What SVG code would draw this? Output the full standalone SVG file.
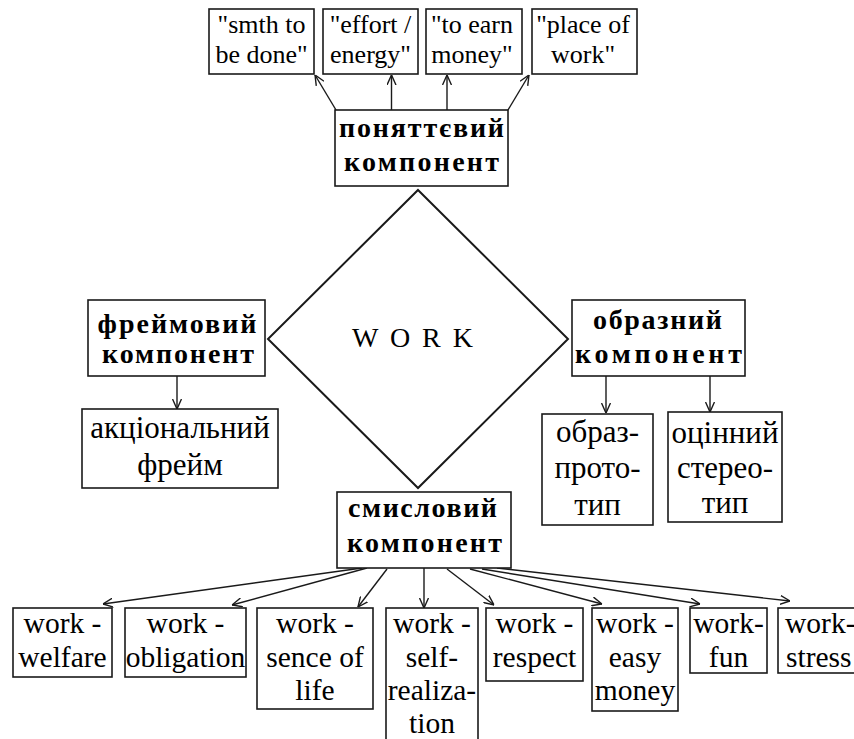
<svg xmlns="http://www.w3.org/2000/svg" width="854" height="739" viewBox="0 0 854 739">
<defs>
  <marker id="ah" viewBox="0 0 10 10" refX="10" refY="5" markerWidth="10" markerHeight="10" markerUnits="userSpaceOnUse" orient="auto">
    <path d="M0,0.5 L10,5 L0,9.5" fill="none" stroke="#1a1a1a" stroke-width="1.4"/>
  </marker>
</defs>
<rect width="854" height="739" fill="#fff"/>

<g id="connectors" fill="none" stroke="#1a1a1a" stroke-width="1.4" marker-end="url(#ah)">
  <line x1="336" y1="110" x2="315" y2="75"/>
  <line x1="391.5" y1="110" x2="391.5" y2="75"/>
  <line x1="447" y1="110" x2="447" y2="75"/>
  <line x1="508" y1="110" x2="529" y2="75"/>
  <line x1="177" y1="376" x2="177" y2="409"/>
  <line x1="606" y1="376" x2="606" y2="413"/>
  <line x1="710" y1="376" x2="710" y2="412"/>
  <line x1="362" y1="568" x2="103" y2="604"/>
  <line x1="367" y1="568" x2="232" y2="605"/>
  <line x1="387" y1="569" x2="358" y2="607"/>
  <line x1="424" y1="568" x2="424" y2="608"/>
  <line x1="447" y1="569" x2="494" y2="605"/>
  <line x1="470" y1="569" x2="602" y2="604"/>
  <line x1="482" y1="569" x2="700" y2="604"/>
  <line x1="497" y1="568" x2="790" y2="601"/>
</g>

<g fill="#fff" stroke="#1a1a1a" stroke-width="1.6">
  <rect id="r-smth" x="209" y="9" width="105" height="65"/>
  <rect id="r-effort" x="323" y="9" width="95" height="65"/>
  <rect id="r-earn" x="426" y="9" width="96" height="65"/>
  <rect id="r-place" x="532" y="9" width="105" height="65"/>
  <rect id="r-ponyat" x="335" y="110" width="173" height="76"/>
  <polygon id="r-work" points="418,190 568,339 418,488 268,339" stroke-width="2"/>
  <rect id="r-freim" x="88" y="300" width="177" height="76"/>
  <rect id="r-akts" x="82" y="409" width="196" height="79"/>
  <rect id="r-obraz" x="572" y="300" width="173" height="76"/>
  <rect id="r-proto" x="542" y="414" width="111" height="111"/>
  <rect id="r-stereo" x="668" y="412" width="114" height="110"/>
  <rect id="r-smysl" x="337" y="492" width="174" height="76"/>
  <rect id="r-welfare" x="13" y="608" width="99" height="69"/>
  <rect id="r-obligation" x="125" y="608" width="121" height="69"/>
  <rect id="r-sence" x="257" y="608" width="116" height="101"/>
  <rect id="r-self" x="386" y="608" width="92" height="150"/>
  <rect id="r-respect" x="486" y="608" width="97" height="73"/>
  <rect id="r-easy" x="592" y="608" width="86" height="103"/>
  <rect id="r-fun" x="690" y="608" width="77" height="65"/>
  <rect id="r-stress" x="778" y="608" width="100" height="65"/>
</g>

<g id="n-smth">
  <text x="261.5" y="33" text-anchor="middle" font-size="26" style="font-family:'Liberation Serif',serif">"smth to</text>
  <text x="261.5" y="63" text-anchor="middle" font-size="26" style="font-family:'Liberation Serif',serif">be done"</text>
</g>
<g id="n-effort">
  <text x="370.5" y="33" text-anchor="middle" font-size="26" style="font-family:'Liberation Serif',serif">"effort /</text>
  <text x="370.5" y="63" text-anchor="middle" font-size="26" style="font-family:'Liberation Serif',serif">energy"</text>
</g>
<g id="n-earn">
  <text x="472" y="33" text-anchor="middle" font-size="26" style="font-family:'Liberation Serif',serif">"to earn</text>
  <text x="472" y="63" text-anchor="middle" font-size="26" style="font-family:'Liberation Serif',serif">money"</text>
</g>
<g id="n-place">
  <text x="583" y="33" text-anchor="middle" font-size="26" style="font-family:'Liberation Serif',serif">"place of</text>
  <text x="583" y="63" text-anchor="middle" font-size="26" style="font-family:'Liberation Serif',serif">work"</text>
</g>

<g id="n-ponyat">
  <text x="421.5" y="137" text-anchor="middle" font-size="28" font-weight="bold" style="font-family:'Liberation Serif',serif" textLength="165" lengthAdjust="spacing">поняттєвий</text>
  <text x="421.5" y="171" text-anchor="middle" font-size="28" font-weight="bold" style="font-family:'Liberation Serif',serif" textLength="155" lengthAdjust="spacing">компонент</text>
</g>

<g id="n-work">
  <text x="412.5" y="347" text-anchor="middle" font-size="28" style="font-family:'Liberation Serif',serif" textLength="121" lengthAdjust="spacing">W O R K</text>
</g>

<g id="n-freim">
  <text x="177" y="333" text-anchor="middle" font-size="28" font-weight="bold" style="font-family:'Liberation Serif',serif" textLength="159" lengthAdjust="spacing">фреймовий</text>
  <text x="178" y="363" text-anchor="middle" font-size="28" font-weight="bold" style="font-family:'Liberation Serif',serif" textLength="152" lengthAdjust="spacing">компонент</text>
</g>
<g id="n-akts">
  <text x="180" y="438" text-anchor="middle" font-size="31" style="font-family:'Liberation Serif',serif">акціональний</text>
  <text x="180" y="475" text-anchor="middle" font-size="31" style="font-family:'Liberation Serif',serif">фрейм</text>
</g>

<g id="n-obraz">
  <text x="657.5" y="329" text-anchor="middle" font-size="28" font-weight="bold" style="font-family:'Liberation Serif',serif" textLength="129" lengthAdjust="spacing">образний</text>
  <text x="658.5" y="363" text-anchor="middle" font-size="28" font-weight="bold" style="font-family:'Liberation Serif',serif" textLength="167" lengthAdjust="spacing">компонент</text>
</g>
<g id="n-proto">
  <text x="597.5" y="442" text-anchor="middle" font-size="31" style="font-family:'Liberation Serif',serif">образ-</text>
  <text x="597.5" y="478" text-anchor="middle" font-size="31" style="font-family:'Liberation Serif',serif">прото-</text>
  <text x="597.5" y="515" text-anchor="middle" font-size="31" style="font-family:'Liberation Serif',serif">тип</text>
</g>
<g id="n-stereo">
  <text x="725" y="443" text-anchor="middle" font-size="31" style="font-family:'Liberation Serif',serif">оцінний</text>
  <text x="725" y="478" text-anchor="middle" font-size="31" style="font-family:'Liberation Serif',serif">стерео-</text>
  <text x="725" y="513" text-anchor="middle" font-size="31" style="font-family:'Liberation Serif',serif">тип</text>
</g>

<g id="n-smysl">
  <text x="422.5" y="517" text-anchor="middle" font-size="28" font-weight="bold" style="font-family:'Liberation Serif',serif" textLength="149" lengthAdjust="spacing">смисловий</text>
  <text x="424.5" y="552" text-anchor="middle" font-size="28" font-weight="bold" style="font-family:'Liberation Serif',serif" textLength="155" lengthAdjust="spacing">компонент</text>
</g>

<g id="n-welfare">
  <text x="62.5" y="633" text-anchor="middle" font-size="29.5" style="font-family:'Liberation Serif',serif">work -</text>
  <text x="62.5" y="667" text-anchor="middle" font-size="29.5" style="font-family:'Liberation Serif',serif">welfare</text>
</g>
<g id="n-obligation">
  <text x="185.5" y="633" text-anchor="middle" font-size="29.5" style="font-family:'Liberation Serif',serif">work -</text>
  <text x="185.5" y="667" text-anchor="middle" font-size="29.5" style="font-family:'Liberation Serif',serif">obligation</text>
</g>
<g id="n-sence">
  <text x="315" y="633" text-anchor="middle" font-size="29.5" style="font-family:'Liberation Serif',serif">work -</text>
  <text x="315" y="667" text-anchor="middle" font-size="29.5" style="font-family:'Liberation Serif',serif">sence of</text>
  <text x="315" y="700" text-anchor="middle" font-size="29.5" style="font-family:'Liberation Serif',serif">life</text>
</g>
<g id="n-self">
  <text x="432" y="633" text-anchor="middle" font-size="29.5" style="font-family:'Liberation Serif',serif">work -</text>
  <text x="432" y="667" text-anchor="middle" font-size="29.5" style="font-family:'Liberation Serif',serif">self-</text>
  <text x="432" y="700" text-anchor="middle" font-size="29.5" style="font-family:'Liberation Serif',serif">realiza-</text>
  <text x="432" y="733" text-anchor="middle" font-size="29.5" style="font-family:'Liberation Serif',serif">tion</text>
</g>
<g id="n-respect">
  <text x="534.5" y="633" text-anchor="middle" font-size="29.5" style="font-family:'Liberation Serif',serif">work -</text>
  <text x="534.5" y="667" text-anchor="middle" font-size="29.5" style="font-family:'Liberation Serif',serif">respect</text>
</g>
<g id="n-easy">
  <text x="635" y="633" text-anchor="middle" font-size="29.5" style="font-family:'Liberation Serif',serif">work -</text>
  <text x="635" y="667" text-anchor="middle" font-size="29.5" style="font-family:'Liberation Serif',serif">easy</text>
  <text x="635" y="700" text-anchor="middle" font-size="29.5" style="font-family:'Liberation Serif',serif">money</text>
</g>
<g id="n-fun">
  <text x="728.5" y="633" text-anchor="middle" font-size="29.5" style="font-family:'Liberation Serif',serif">work-</text>
  <text x="728.5" y="667" text-anchor="middle" font-size="29.5" style="font-family:'Liberation Serif',serif">fun</text>
</g>
<g id="n-stress">
  <text x="785" y="633" font-size="29.5" style="font-family:'Liberation Serif',serif">work-</text>
  <text x="786" y="667" font-size="29.5" style="font-family:'Liberation Serif',serif">stress</text>
</g>
</svg>
